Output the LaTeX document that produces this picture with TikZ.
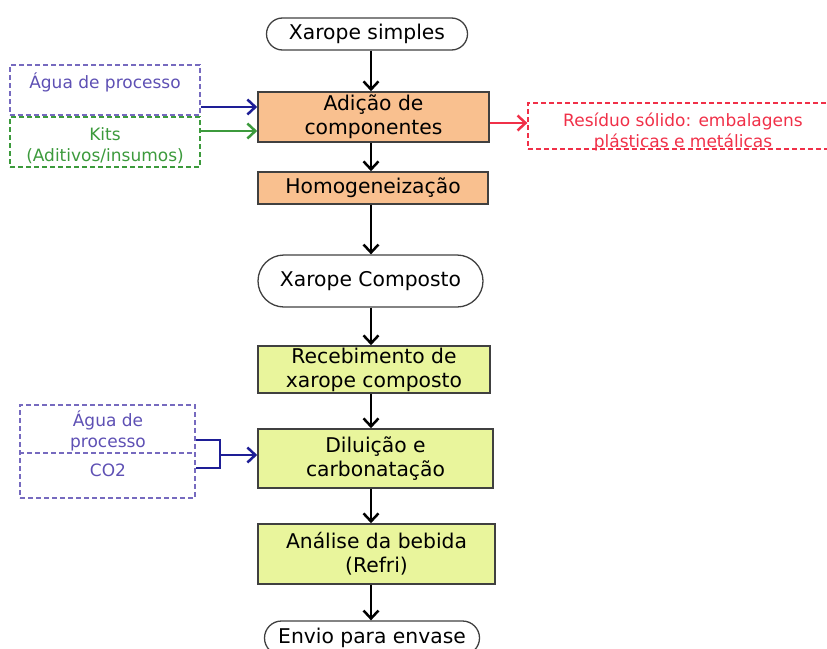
\documentclass[tikz,border=0pt]{standalone}
\usepackage{fontspec}
\setmainfont{DejaVu Sans}
\usetikzlibrary{arrows.meta,calc}
\definecolor{orangefill}{HTML}{F9C08F}
\definecolor{greenfill}{HTML}{E9F59C}
\definecolor{boxline}{HTML}{404040}
\definecolor{purp}{HTML}{5E50B4}
\definecolor{grn}{HTML}{3C9A3C}
\definecolor{rd}{HTML}{F03048}
\definecolor{navy}{HTML}{1E1E96}
\tikzset{
  mainfont/.style={font=\fontsize{20.3}{24}\selectfont, align=center},
  sidefont/.style={font=\fontsize{17}{21}\selectfont, align=center},
  stepbox/.style={draw=boxline, line width=1.6pt, rectangle, inner sep=0pt, mainfont},
  orangebox/.style={stepbox, fill=orangefill},
  greenbox/.style={stepbox, fill=greenfill},
  terminal/.style={draw=boxline, line width=1.3pt, rectangle, inner sep=0pt, mainfont},
  dashbox/.style={draw, line width=1.3pt, dash pattern=on 5pt off 3pt, rectangle, inner sep=0pt},
  flow/.style={line width=2.7pt, -{Straight Barb[length=8pt,width=15pt,line width=2.5pt]}},
}
\begin{document}
\begin{tikzpicture}[x=1pt,y=-1pt]
\useasboundingbox (0,0) rectangle (827,648);
\coordinate (axis) at (371,0);

% main column
\node[terminal, minimum width=201pt, minimum height=32pt, rounded corners=16pt] (xs) at (367,34) {Xarope simples};
\node[orangebox, minimum width=231pt, minimum height=50pt] (adc) at (373.5,117) {Adição de\\componentes};
\node[orangebox, minimum width=230pt, minimum height=32pt] (hom) at (373,188) {Homogeneização};
\node[terminal, minimum width=225pt, minimum height=52pt, rounded corners=26pt] (xc) at (370.5,281) {Xarope Composto};
\node[greenbox, minimum width=232pt, minimum height=47pt] (rec) at (374,369.5) {Recebimento de\\xarope composto};
\node[greenbox, minimum width=235pt, minimum height=59pt] (dil) at (375.5,458.5) {Diluição e\\carbonatação};
\node[greenbox, minimum width=237pt, minimum height=60pt] (ana) at (376.5,554) {Análise da bebida\\(Refri)};
\node[terminal, minimum width=215pt, minimum height=34pt, rounded corners=17pt] (env) at (372,638) {Envio para envase};

\draw[flow] (axis |- xs.south) -- (axis |- adc.north);
\draw[flow] (axis |- adc.south) -- (axis |- hom.north);
\draw[flow] (axis |- hom.south) -- (axis |- xc.north);
\draw[flow] (axis |- xc.south) -- (axis |- rec.north);
\draw[flow] (axis |- rec.south) -- (axis |- dil.north);
\draw[flow] (axis |- dil.south) -- (axis |- ana.north);
\draw[flow] (axis |- ana.south) -- (axis |- env.north);

% upper left inputs
\node[dashbox, draw=purp!85, minimum width=190pt, minimum height=50pt] (agua1) at (105,90) {};
\node[sidefont, text=purp] (agua1t) at (105,82) {Água de processo};
\node[dashbox, draw=grn, minimum width=190pt, minimum height=50pt] (kits) at (105,142) {};
\node[sidefont, text=grn] (kitst) at (105,146) {Kits\\(Aditivos/insumos)};
\coordinate (yb1) at (0,107);
\coordinate (yb2) at (0,131);
\draw[flow, navy] (agua1.east |- yb1) -- (adc.west |- yb1);
\draw[flow, grn] (kits.east |- yb2) -- (adc.west |- yb2);

% residue output
\node[dashbox, draw=rd, minimum width=302pt, minimum height=46pt] (res) at (679,126) {};
\node[sidefont, text=rd] (rest) at (683,132) {Resíduo sólido: embalagens\\plásticas e metálicas};
\coordinate (yr) at (0,123);
\draw[flow, rd] (adc.east |- yr) -- (res.west |- yr);

% lower left inputs
\node[dashbox, draw=purp!85, minimum width=175pt, minimum height=93pt] (agua2) at (107.5,451.5) {};
\coordinate (ydiv) at (0,453);
\draw[purp!85, line width=1.3pt, dash pattern=on 5pt off 3pt] (agua2.west |- ydiv) -- (agua2.east |- ydiv);
\node[sidefont, text=purp] (agua2t) at (108,431) {Água de\\processo};
\node[sidefont, text=purp] (co2) at (108,470) {CO2};
\coordinate (bt) at (220,440);
\coordinate (bb) at (220,468);
\coordinate (bm) at (220,455);
\draw[navy, line width=2.7pt] (agua2.east |- bt) -- (bt) -- (bb) -- (agua2.east |- bb);
\draw[flow, navy] (bm) -- (dil.west |- bm);
\end{tikzpicture}
\end{document}
